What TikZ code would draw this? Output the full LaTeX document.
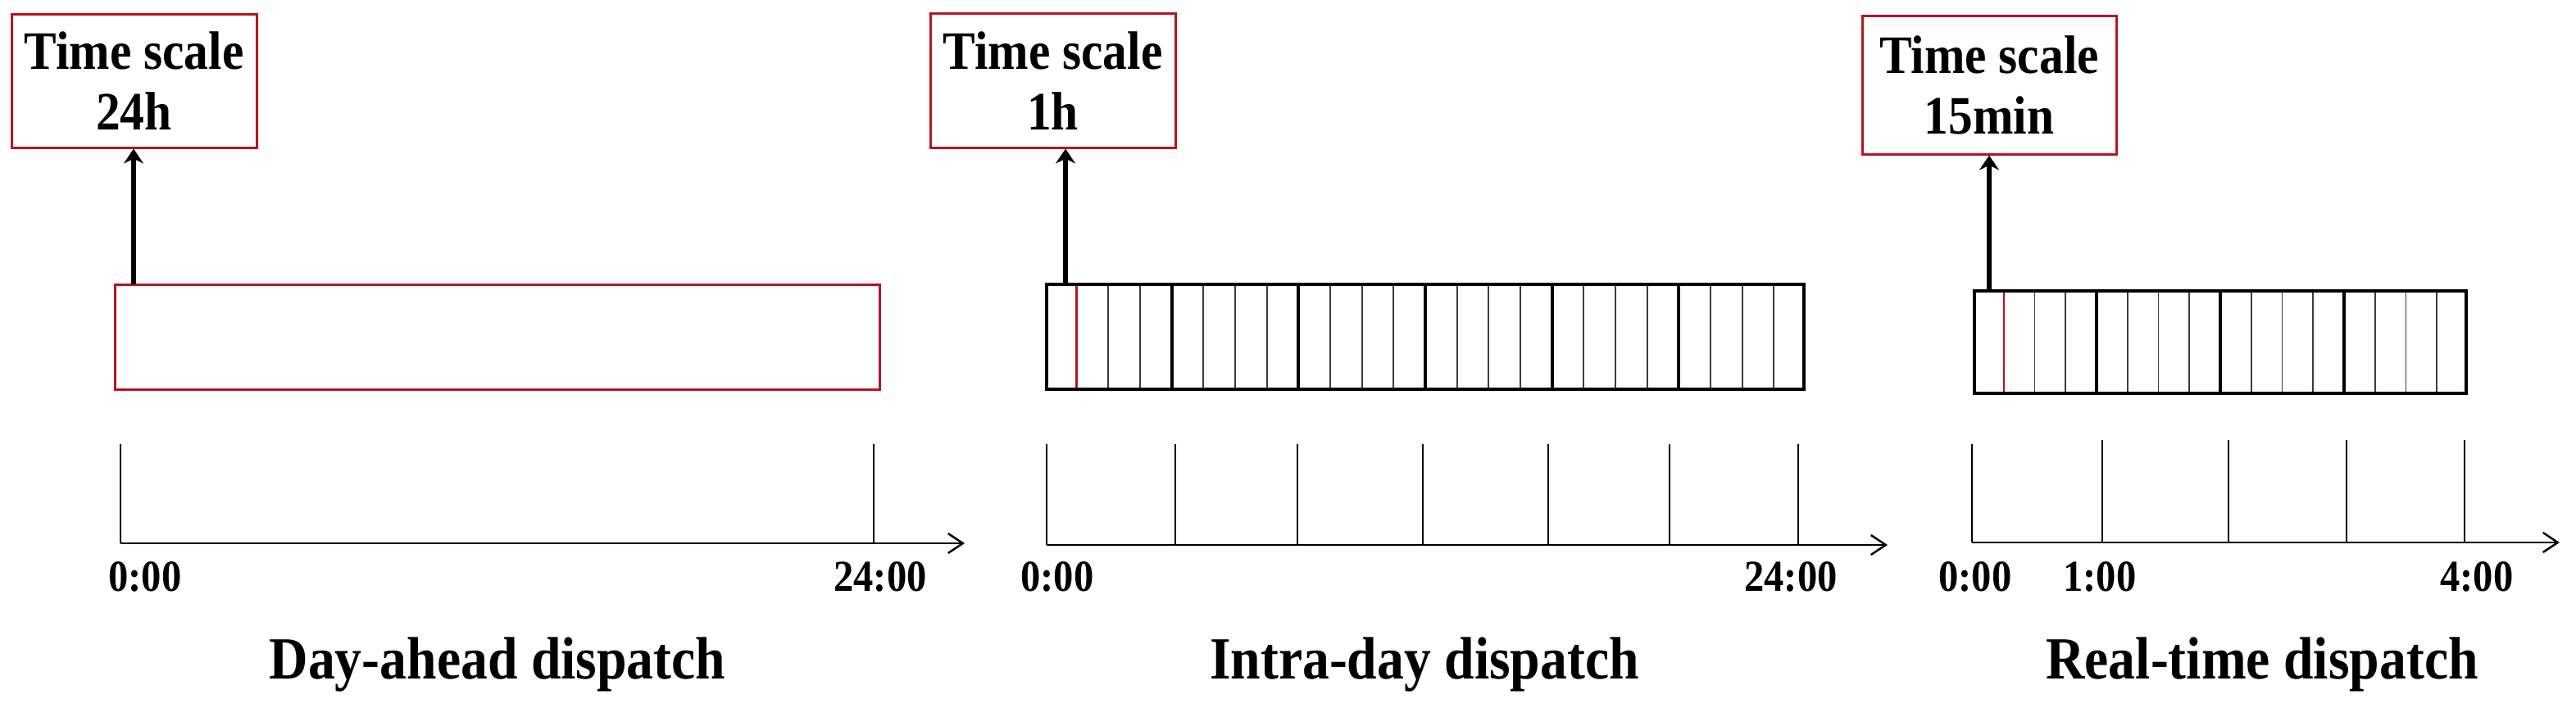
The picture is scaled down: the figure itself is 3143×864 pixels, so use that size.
\documentclass[tikz,border=0pt]{standalone}
\usepackage{fontspec}
\setmainfont{Liberation Serif}[FakeStretch=0.9]
\usetikzlibrary{arrows.meta,calc}
\definecolor{boxred}{RGB}{185,20,30}
\definecolor{thingray}{RGB}{60,60,60}
\begin{document}
\begin{tikzpicture}[x=1pt,y=-1pt,
  scalebox/.style={draw=boxred,line width=3pt,fill=white,align=center,inner sep=0pt,
    font=\bfseries\fontsize{66}{74}\selectfont},
  plainrect/.style={draw=boxred,line width=3pt,inner sep=0pt},
  gridrect/.style={draw=black,line width=4pt,inner sep=0pt},
  upline/.style={line width=6.5pt,-{Stealth[length=18pt,width=24pt]}},
  axisline/.style={line width=2.5pt,-{Straight Barb[length=18pt,width=24pt,line width=2.5pt]}},
  tickline/.style={line width=2pt},
  thinline/.style={draw=thingray,line width=1.8pt},
  redline/.style={draw=boxred,line width=2.5pt},
  thickline/.style={draw=black,line width=4pt},
  tlabel/.style={anchor=base,inner sep=0pt,font=\bfseries\fontsize{54}{60}\selectfont},
  title/.style={anchor=base,inner sep=0pt,font=\bfseries\fontsize{73}{80}\selectfont}]
\useasboundingbox (0,0) rectangle (3143,864);

% ---------- Day-ahead ----------
\node[scalebox,minimum width=299pt,minimum height=162pt] (b1) at (163.5,99) {Time scale\\24h};
\node[plainrect,minimum width=933pt,minimum height=128pt] (r1) at (606.5,411) {};
\coordinate (a1) at (163,347);
\draw[upline] (a1) -- (a1 |- b1.south);

\coordinate (o1) at (147,663);
\coordinate (e1) at (1177,663);
\draw[tickline] (147,542) -- (o1);
\draw[tickline] (1066,542) -- (1066,663);
\draw[axisline] (o1) -- (e1);
\node[tlabel] (l10) at (177,721) {0:00};
\node[tlabel] (l11) at (1074,721) {24:00};
\node[title] (t1) at (607,828) {Day-ahead dispatch};

% ---------- Intra-day ----------
\node[gridrect,minimum width=924pt,minimum height=128pt] (r2) at (1739,411) {};
\foreach \i in {1,...,23}{
  \pgfmathtruncatemacro{\m}{mod(\i,4)}
  \ifnum\i=1
    \draw[redline] ($(r2.north west)!\i/24!(r2.north east)$) -- ($(r2.south west)!\i/24!(r2.south east)$);
  \else\ifnum\m=0
    \draw[thickline] ($(r2.north west)!\i/24!(r2.north east)$) -- ($(r2.south west)!\i/24!(r2.south east)$);
  \else
    \draw[thinline] ($(r2.north west)!\i/24!(r2.north east)$) -- ($(r2.south west)!\i/24!(r2.south east)$);
  \fi\fi
}
\node[gridrect,minimum width=924pt,minimum height=128pt] at (1739,411) {};
\node[scalebox,minimum width=299pt,minimum height=163pt] (b2) at (1284.5,98.5) {Time scale\\1h};
\coordinate (a2) at (1300,347);
\draw[upline] (a2) -- (a2 |- b2.south);

\coordinate (o2) at (1277,665);
\coordinate (e2) at (2303,665);
\foreach \x in {1277,1434,1583,1736,1889,2037,2194}{
  \draw[tickline] (\x,542) -- (\x,665);
}
\draw[axisline] (o2) -- (e2);
\node[tlabel] (l20) at (1290,721) {0:00};
\node[tlabel] (l21) at (2185,721) {24:00};
\node[title] (t2) at (1738,828) {Intra-day dispatch};

% ---------- Real-time ----------
\node[gridrect,minimum width=600pt,minimum height=125pt] (r3) at (2709,417.5) {};
\foreach \i in {1,...,15}{
  \pgfmathtruncatemacro{\m}{mod(\i,4)}
  \ifnum\i=1
    \draw[redline] ($(r3.north west)!\i/16!(r3.north east)$) -- ($(r3.south west)!\i/16!(r3.south east)$);
  \else\ifnum\m=0
    \draw[thickline] ($(r3.north west)!\i/16!(r3.north east)$) -- ($(r3.south west)!\i/16!(r3.south east)$);
  \else
    \draw[thinline] ($(r3.north west)!\i/16!(r3.north east)$) -- ($(r3.south west)!\i/16!(r3.south east)$);
  \fi\fi
}
\node[gridrect,minimum width=600pt,minimum height=125pt] at (2709,417.5) {};
\node[scalebox,minimum width=310pt,minimum height=168pt] (b3) at (2427,104) {Time scale\\15min};
\coordinate (a3) at (2427,355);
\draw[upline] (a3) -- (a3 |- b3.south);

\coordinate (o3) at (2406,662);
\coordinate (e3) at (3123,662);
\draw[tickline] (2406,542) -- (o3);
\foreach \x in {2565,2719,2863,3007}{
  \draw[tickline] (\x,537) -- (\x,662);
}
\draw[axisline] (o3) -- (e3);
\node[tlabel] (l30) at (2410,721) {0:00};
\node[tlabel] (l31) at (2562,721) {1:00};
\node[tlabel] (l34) at (3022,721) {4:00};
\node[title] (t3) at (2760,828) {Real-time dispatch};
\end{tikzpicture}
\end{document}
